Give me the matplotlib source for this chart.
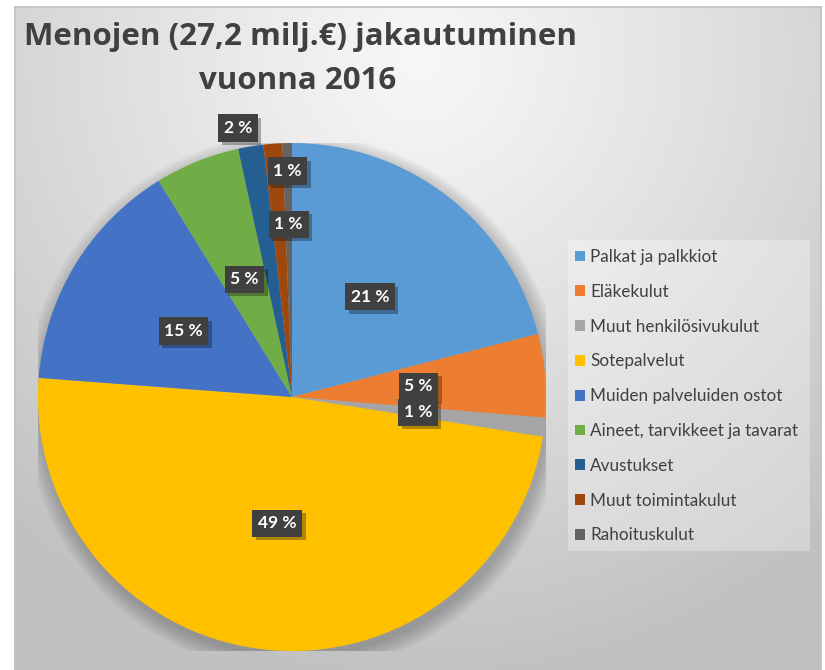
import numpy as np
import matplotlib
matplotlib.use("Agg")
import matplotlib.pyplot as plt
from matplotlib.patches import Rectangle, Patch, Circle
import matplotlib.patheffects as pe

# ---------------- data ----------------
categories = ["Palkat ja palkkiot", "Eläkekulut", "Muut henkilösivukulut", "Sotepalvelut",
              "Muiden palveluiden ostot", "Aineet, tarvikkeet ja tavarat", "Avustukset",
              "Muut toimintakulut", "Rahoituskulut"]
shares = [21.0, 5.3, 1.2, 48.7, 15.0, 5.4, 1.6, 1.2, 0.6]   # % of 27,2 milj.€
colors = ["#5b9bd5", "#ed7d31", "#a5a5a5", "#ffc000", "#4472c4",
          "#70ad47", "#255e91", "#9e480e", "#636363"]
title_lines = ["Menojen (27,2 milj.€) jakautuminen", "vuonna 2016"]

# label placement (style): radius fraction and angle tweak (deg)
label_r = [0.5, 0.5, 0.5, 0.5, 0.5, 0.5, 1.08, 0.89, 0.68]
label_dt = [0, 0, 0, 0, 0, 0, 2.0, -3.2, 0]

FONT = "Lato"
TFONT = "Open Sans"
W, H = 825, 670
fig = plt.figure(figsize=(W / 100, H / 100), dpi=100)
fig.patch.set_facecolor("white")

# ---------------- background with radial gradient ----------------
x0, x1, ytop = 15, 821, 7
bg = fig.add_axes([x0 / W, 0, (x1 - x0) / W, (H - ytop) / H])
yy, xx = np.mgrid[ytop:H, x0:x1]
d = np.hypot(xx - 420, yy - 60)
v = (247 - 54 * np.clip(d / 620, 0, 1) ** 1.15) / 255.0
bg.imshow(np.dstack([v, v, v]), aspect="auto", interpolation="bilinear")
bg.set_xticks([])
bg.set_yticks([])
for s in ["top", "left", "right"]:
    bg.spines[s].set_color("#bfbfbf")
    bg.spines[s].set_linewidth(1.2)
bg.spines["bottom"].set_visible(False)

# ---------------- pie ----------------
cx, cy, R = 292, 397, 254
ax = fig.add_axes([(cx - R) / W, (H - cy - R) / H, 2 * R / W, 2 * R / H])
ax.patch.set_alpha(0)
# soft shadow
for k in range(10):
    ax.add_patch(Circle((0.01, -0.025), 1.0 + 0.007 * k, color="black",
                        alpha=0.025, lw=0, zorder=0))
wedges, _ = ax.pie(shares, colors=colors, startangle=90, counterclock=False,
                   radius=1, wedgeprops=dict(linewidth=0))
for w in wedges:
    w.set_zorder(2)
ax.set_xlim(-1, 1)
ax.set_ylim(-1, 1)
ax.set_aspect("equal")
ax.axis("off")

total = sum(shares)
for w, s, r, dt in zip(wedges, shares, label_r, label_dt):
    th = np.deg2rad((w.theta1 + w.theta2) / 2 + dt)
    px, py = r * np.cos(th), r * np.sin(th)
    txt = f"{round(s / total * 100):d} %"
    t = ax.text(px, py, txt, ha="center", va="center", fontsize=12.5, fontweight="bold",
                family=FONT, color="white", zorder=5,
                bbox=dict(boxstyle="square,pad=0.32", fc="#404040", ec="none"))
    t.get_bbox_patch().set_path_effects([
        pe.SimplePatchShadow(offset=(2.5, -2.5), shadow_rgbFace="black", alpha=0.3),
        pe.Normal()])

# ---------------- title ----------------
fig.text(300 / W, 1 - 45 / H, title_lines[0], ha="center", va="baseline",
         fontsize=22.5, fontweight="bold", family=TFONT, color="#404040")
fig.text(298 / W, 1 - 89 / H, title_lines[1], ha="center", va="baseline",
         fontsize=22.5, fontweight="bold", family=TFONT, color="#404040")

# ---------------- legend ----------------
fig.add_artist(Rectangle((568 / W, 1 - 551 / H), 242 / W, 311 / H,
                         transform=fig.transFigure, fc="white", alpha=0.3,
                         ec="none", zorder=1))
handles = [Patch(facecolor=c, edgecolor="none") for c in colors]
leg = fig.legend(handles, categories, loc="upper left",
                 bbox_to_anchor=(575 / W, 1 - 249 / H), frameon=False,
                 prop=dict(family=FONT, size=12.3), labelcolor="#404040",
                 handlelength=0.6, handleheight=0.6, handletextpad=0.3,
                 labelspacing=1.1, borderpad=0, borderaxespad=0)
leg.set_zorder(3)

fig.savefig("out.png", dpi=100, facecolor=fig.get_facecolor())
